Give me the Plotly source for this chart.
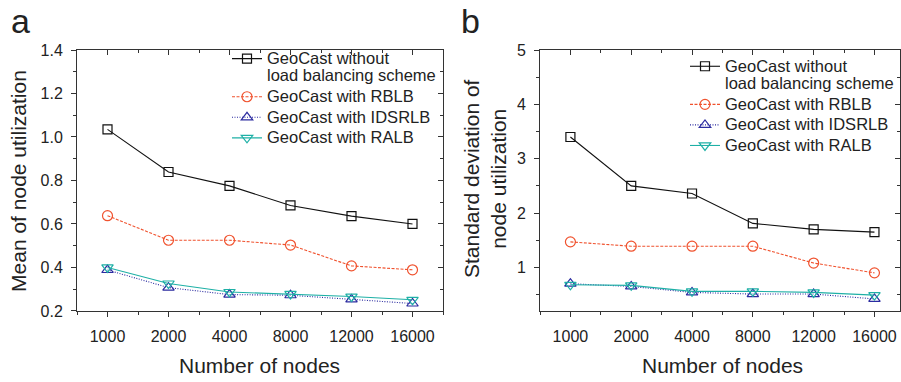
import plotly.graph_objects as go

nodes = ["1000", "2000", "4000", "8000", "12000", "16000"]

# Panel a: mean of node utilization
mean_none = [1.035, 0.839, 0.775, 0.685, 0.636, 0.600]
mean_rblb = [0.638, 0.525, 0.525, 0.503, 0.407, 0.389]
mean_idsrlb = [0.388, 0.307, 0.275, 0.272, 0.253, 0.234]
mean_ralb = [0.400, 0.326, 0.287, 0.278, 0.266, 0.251]

# Panel b: standard deviation of node utilization
std_none = [3.40, 2.50, 2.36, 1.81, 1.70, 1.65]
std_rblb = [1.47, 1.39, 1.39, 1.39, 1.08, 0.90]
std_idsrlb = [0.70, 0.65, 0.54, 0.51, 0.51, 0.42]
std_ralb = [0.68, 0.67, 0.56, 0.56, 0.54, 0.49]

names = ["GeoCast without<br>load balancing scheme", "GeoCast with RBLB",
         "GeoCast with IDSRLB", "GeoCast with RALB"]
colors = ["#111111", "#F0522E", "#2B2BA0", "#1EB0A6"]
dashes = ["solid", "3px,1.5px", "1px,1.5px", "solid"]
symbols = ["square-open", "circle-open", "triangle-up-open", "triangle-down-open"]
msizes = [9, 10, 10, 10]

W, H = 901, 382
FONT = "Liberation Sans, Arial, sans-serif"
xpos = list(range(len(nodes)))


def leg_name(n):
    return "<br>".join(
        f"<span style='font-size:16.5px'>{part}</span>" for part in n.split("<br>"))


fig = go.Figure()
panels = [
    ("x", "y", [mean_none, mean_rblb, mean_idsrlb, mean_ralb], "legend"),
    ("x2", "y2", [std_none, std_rblb, std_idsrlb, std_ralb], "legend2"),
]
for xa, ya, series, leg in panels:
    for i, vals in enumerate(series):
        fig.add_trace(go.Scatter(
            x=xpos, y=vals, xaxis=xa, yaxis=ya, name=leg_name(names[i]),
            legend=leg, mode="lines+markers",
            line=dict(color=colors[i], width=1.1, dash=dashes[i]),
            marker=dict(symbol=symbols[i], size=msizes[i], color=colors[i],
                        line=dict(width=1.2, color=colors[i])),
        ))

# invisible traces bound to the overlaid top / right frame axes
for xa, ya, vals in (("x3", "y", mean_none), ("x", "y3", mean_none),
                     ("x4", "y2", std_none), ("x2", "y4", std_none)):
    fig.add_trace(go.Scatter(x=xpos, y=vals, xaxis=xa, yaxis=ya, mode="none",
                             showlegend=False, hoverinfo="skip"))

ydom = [1 - 317 / H, 1 - 44 / H]
xdom_a = [77 / W, 443 / W]
xdom_b = [540 / W, 900 / W]
xr_a = [-0.5, 5.5]
xr_b = [-0.5, 5.42]
minor_x = [v - 0.5 for v in xpos] + [xpos[-1] + 0.5]

tickfont = dict(family=FONT, size=16, color="#222")
AX = "#333"


def xaxis_main(dom, rng, anchor):
    return dict(domain=dom, range=rng, anchor=anchor, tickmode="array",
                tickvals=xpos, ticktext=nodes, ticks="outside", ticklen=5,
                tickwidth=1, tickcolor=AX, showline=True, linecolor=AX,
                linewidth=1, showgrid=False, zeroline=False, tickfont=tickfont,
                ticklabelstandoff=6,
                minor=dict(tickvals=minor_x, ticks="outside", ticklen=3,
                           tickcolor=AX, showgrid=False))


def xaxis_top(dom, rng, anchor, over):
    return dict(domain=dom, range=rng, anchor=anchor, overlaying=over,
                side="top", tickmode="array", tickvals=xpos, ticks="inside",
                ticklen=5, tickcolor=AX, showticklabels=False,
                showline=True, linecolor=AX, linewidth=1, showgrid=False,
                zeroline=False,
                minor=dict(tickvals=minor_x, ticks="inside", ticklen=3,
                           tickcolor=AX, showgrid=False))


def yaxis_main(dom, rng, anchor, dtick, mdtick, fmt):
    return dict(domain=dom, range=rng, anchor=anchor, tickmode="linear",
                tick0=0, dtick=dtick, ticks="outside", ticklen=5,
                tickcolor=AX, showline=True, linecolor=AX, linewidth=1,
                showgrid=False, zeroline=False, tickfont=tickfont,
                tickformat=fmt, ticklabelstandoff=5,
                minor=dict(dtick=mdtick, ticks="outside", ticklen=3,
                           tickcolor=AX, showgrid=False))


def yaxis_right(dom, rng, anchor, over, dtick, mdtick):
    return dict(domain=dom, range=rng, anchor=anchor, overlaying=over,
                side="right", tickmode="linear", tick0=0, dtick=dtick,
                ticks="inside", ticklen=5, tickcolor=AX,
                showticklabels=False, showline=True, linecolor=AX,
                linewidth=1, showgrid=False, zeroline=False,
                minor=dict(dtick=mdtick, ticks="inside", ticklen=3,
                           tickcolor=AX, showgrid=False))


legfont = dict(family=FONT, size=13.5, color="#222")
fig.update_layout(
    width=W, height=H, margin=dict(l=0, r=0, t=0, b=0),
    paper_bgcolor="white", plot_bgcolor="white",
    font=dict(family=FONT, color="#222"),
    xaxis=xaxis_main(xdom_a, xr_a, "y"),
    yaxis=yaxis_main(ydom, [0.2, 1.4], "x", 0.2, 0.1, ".1f"),
    xaxis2=xaxis_main(xdom_b, xr_b, "y2"),
    yaxis2=yaxis_main(ydom, [0.2, 5], "x2", 1, 0.5, "d"),
    xaxis3=xaxis_top(xdom_a, xr_a, "y", "x"),
    yaxis3=yaxis_right(ydom, [0.2, 1.4], "x", "y", 0.2, 0.1),
    xaxis4=xaxis_top(xdom_b, xr_b, "y2", "x2"),
    yaxis4=yaxis_right(ydom, [0.2, 5], "x2", "y2", 1, 0.5),
    legend=dict(x=227 / W, y=1 - 37 / H, xanchor="left", yanchor="top",
                bgcolor="rgba(0,0,0,0)", font=legfont,
                valign="top", tracegroupgap=0, itemwidth=30),
    legend2=dict(x=685 / W, y=1 - 45 / H, xanchor="left", yanchor="top",
                 bgcolor="rgba(0,0,0,0)", font=legfont,
                 valign="top", tracegroupgap=0, itemwidth=30),
    showlegend=True,
)

ann_font = dict(family=FONT, size=21, color="#222")
annotations = [
    dict(text="a", x=9 / W, y=1 - 14 / H, xanchor="left", yanchor="middle",
         font=dict(family=FONT, size=34, color="#222")),
    dict(text="b", x=459 / W, y=1 - 14 / H, xanchor="left", yanchor="middle",
         font=dict(family=FONT, size=34, color="#222")),
    dict(text="Mean of node utilization", x=19 / W, y=1 - 181 / H,
         xanchor="center", yanchor="middle", textangle=-90, font=ann_font),
    dict(text="Standard deviation of<br>node utilization", x=485 / W,
         y=1 - 179 / H, xanchor="center", yanchor="middle", textangle=-90,
         font=ann_font),
    dict(text="Number of nodes", x=259 / W, y=1 - 374 / H, xanchor="center",
         yanchor="middle", font=ann_font),
    dict(text="Number of nodes", x=722 / W, y=1 - 374 / H, xanchor="center",
         yanchor="middle", font=ann_font),
]
for a in annotations:
    a.update(xref="paper", yref="paper", showarrow=False)
fig.update_layout(annotations=annotations)

fig.write_html("out.html")
